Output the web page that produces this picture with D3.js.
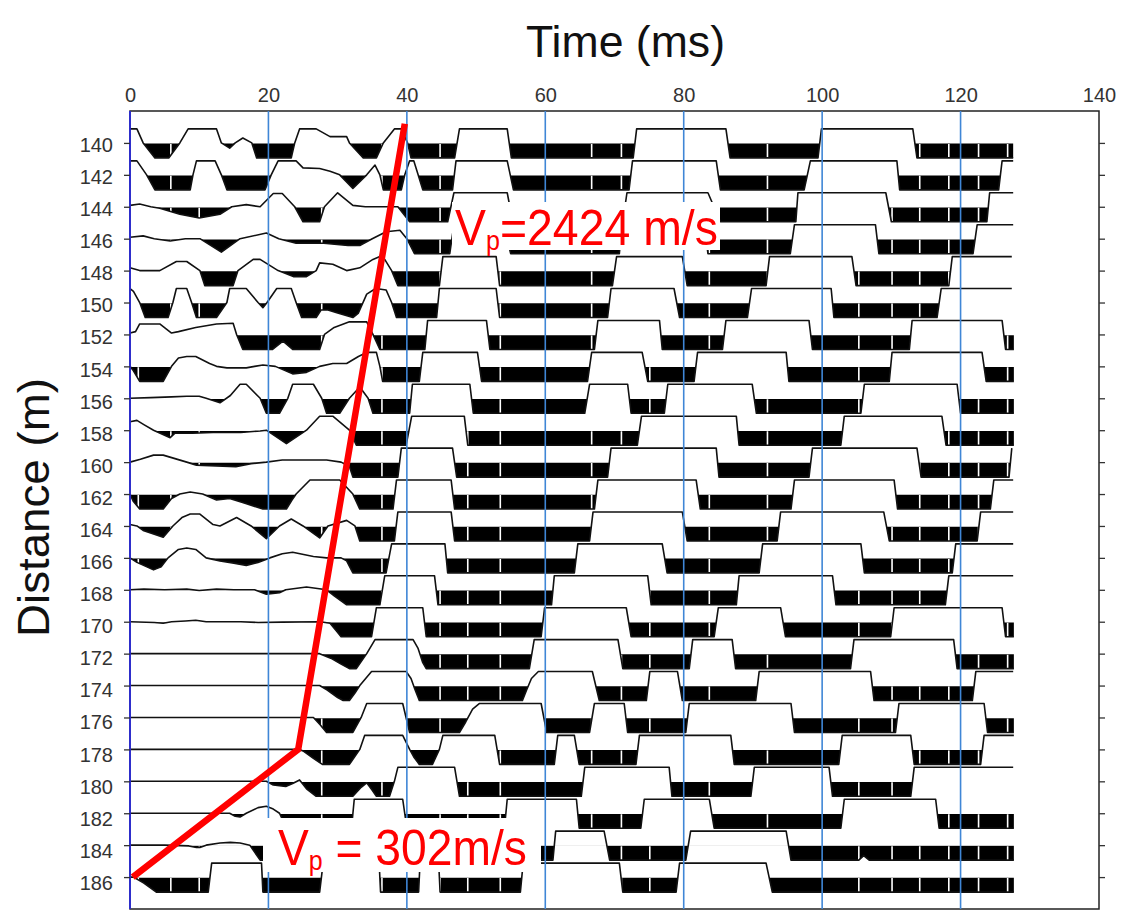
<!DOCTYPE html>
<html><head><meta charset="utf-8">
<script src="https://cdn.jsdelivr.net/npm/d3@7/dist/d3.min.js"></script>
<style>body{margin:0;background:#fff}svg{display:block}text{font-family:"Liberation Sans",Arial,sans-serif}</style>
</head><body><svg id="c" width="1126" height="910"></svg>
<script>
// ---- data ----
const distances = [140,142,144,146,148,150,152,154,156,158,160,162,164,166,168,170,172,174,176,178,180,182,184,186];
const timeTicks = [0,20,40,60,80,100,120,140];
const gridTimes = [20,40,60,80,100,120];
// sample gaps visible as thin white lines inside the black fills (ms)
const gapTimes = [1.2,5.9,10.0,27.7,36.4,44.8,48.8,53.5,66.7,71.0,75.1,83.7,92.1,105.3,110.1,114.1,118.3,122.6,126.8];
// first-break picks (ms, m)
const pickTimes = [0.4,24.3,39.7];
const pickDist = [186,178,138.8];
// traces: flat pairs [time ms, clipped amplitude (+ = filled, down)]
const tr140=[0,-1,1.0,-1,1.9,0,3.6,1,5.6,1,7.2,0,8.4,-1,12.5,-1,13.2,0,14.4,0.35,15.2,0,16.3,-0.35,17.6,0,18.3,1,23.3,1,23.8,0,24.5,-1,26.9,-1,28.9,-0.45,31.3,-0.45,31.7,0,33.7,1,35.6,1,36.6,0,38.2,-1,39.2,-1,40.1,0,40.6,1,46.9,1,47.6,-1,54.5,-1,55.1,1,72.7,1,73.2,-1,86.1,-1,86.7,1,99.4,1,99.9,-1,113.1,-1,113.7,1,127.6,1];
const tr142=[0,-1,1.0,-1,2.4,0,3.6,1,8.7,1,9.1,0,9.6,-1,12.3,-1,13.2,0,14.0,1,19.5,1,20.4,0,21.4,-1,24.0,-1,25.0,-0.5,27.4,-0.45,28.9,-0.25,30.3,0,32.2,0.9,34.2,0,35.4,-0.7,36.1,0,36.6,1,39.2,1,39.7,0,40.4,-1,41.0,-1,42.3,1,46.6,1,47.1,-1,54.5,-1,55.4,1,72.1,1,72.6,-1,84.7,-1,85.3,1,97.4,1,98.3,-1,110.8,-1,111.2,1,125.5,1,126.0,-1,127.6,-1];
const tr144=[0,-0.1,1.4,-0.2,3.0,0,4.3,0.1,7.2,0.5,10.0,0.75,13.0,0.5,14.7,0,16.8,-0.15,18.8,0,20.7,-0.95,22.0,-0.95,23.8,0,25.0,1,27.4,1,28.1,0,30.0,-1,32.2,-0.1,34.0,0,38.7,0,40.4,1,45.9,1,46.8,-1,54.5,-1,55.3,1,71.2,1,71.8,-1,83.5,-1,85.3,1,96.2,1,96.5,-1,109.2,-1,110.0,1,123.8,1,124.2,-1,127.6,-1];
const tr146=[0,-0.1,1.9,-0.2,3.5,0,5.8,0.15,8.0,0,10.1,0,13.2,0.9,15.9,0,19.7,-0.4,21.5,0,24.0,0.3,28.0,0.3,31.5,0.45,33.2,0.45,35.0,0,37.0,-0.5,39.0,-0.6,40.0,0,41.1,1,46.2,1,46.8,-1,54.0,-1,55.0,1,70.7,1,71.1,-1,83.0,-1,83.5,1,95.4,1,96.0,-1,107.7,-1,108.2,1,121.8,1,122.4,-1,127.6,-1];
const tr148=[0,-0.2,1.4,0,4.3,0,6.7,-0.65,8.2,-0.65,10.1,0,10.8,1,14.9,1,15.6,0,17.8,-0.8,18.8,-0.8,21.4,0,23.6,0.4,25.5,0.4,26.9,0,27.4,-0.55,29.3,-0.45,31.3,0,33.2,-0.2,35.1,-0.8,36.1,-1,36.8,-0.8,37.8,0,38.7,1,44.7,1,45.2,-1,52.9,-1,53.4,1,69.7,1,70.3,-1,79.8,-1,80.5,1,91.9,1,92.4,-1,104.3,-1,104.9,1,118.3,1,118.8,-1,127.4,-1];
const tr150=[0,-1,0.5,-0.8,1.4,0,2.2,1,5.5,1,6.2,0,6.7,-1,8.2,-1,8.9,0,9.6,1,12.5,1,14.0,0,14.4,-1,16.8,-1,18.5,0,19.2,0.35,19.8,0,21.2,-1,23.3,-1,24.0,0,24.8,1,26.9,1,27.6,0.5,28.6,0.5,30.0,0.7,32.2,1,33.0,0.7,34.2,-0.6,35.5,-1,37.0,-0.9,37.8,0,38.5,1,44.3,1,44.7,-1,52.9,-1,53.4,1,69.0,1,69.5,-1,78.6,-1,79.4,1,89.2,1,89.8,-1,101.3,-1,101.7,1,116.6,1,117.2,-1,127.4,-1];
const tr152=[0,-0.1,0.8,-0.2,1.4,-0.75,4.3,-0.75,6.0,-0.1,7.0,-0.2,9.5,-0.5,12.5,-0.75,14.9,-0.8,15.4,0,16.3,1,20.6,1,22.1,0.45,23.5,1,27.4,1,28.1,0,29.5,-0.5,31.7,-0.9,34.2,-0.9,35.1,0,36.1,1,42.6,1,43.0,-1,51.5,-1,52.0,1,67.1,1,67.6,-1,76.5,-1,76.9,1,85.6,1,86.1,-1,98.1,-1,98.6,1,112.6,1,113.0,-1,126.0,-1,126.5,1,127.7,1];
const tr154=[0,0,0.5,0.3,1.4,1,4.8,1,6.0,0,7.0,-0.6,8.2,-0.7,9.5,-0.7,11.5,-0.2,12.5,0,14.0,0.1,16.8,0.1,18.0,0,19.2,-0.1,21.0,0,23.5,0.5,25.5,0.4,27.4,0,29.3,-0.2,31.3,-0.2,33.0,-0.7,34.2,-1,35.6,-1,36.1,0,36.5,1,41.8,1,42.3,-1,50.2,-1,50.8,1,66.1,1,66.7,-1,74.0,-1,74.8,1,81.5,1,82.0,-1,94.8,-1,95.2,1,109.7,1,110.1,-1,123.1,-1,123.7,1,127.7,1];
const tr156=[0,0,3.0,-0.05,6.0,-0.1,8.2,-0.15,10.0,-0.15,11.0,0,13.0,0.3,14.5,-0.2,15.9,-1,16.8,-1,18.8,0,19.7,1,21.6,1,22.8,0,23.5,-1,26.5,-1,27.7,0,28.4,1,30.3,1,31.7,0,33.2,-0.8,34.4,0,35.1,1,40.4,1,40.8,-1,49.1,-1,49.6,1,65.7,1,66.4,-1,71.9,-1,72.4,1,77.2,1,77.7,-1,89.9,-1,90.5,1,105.6,1,106.1,-1,119.5,-1,120.0,1,127.7,1];
const tr158=[0,-0.6,1.0,-0.7,2.0,-0.4,3.4,0,5.8,0.5,6.5,0.2,9.0,0.2,12.0,0.15,16.0,0.15,18.8,0.05,19.7,0,22.6,0.9,25.5,0,27.4,-1,29.3,-1,31.7,0,32.7,1,39.9,1,40.7,-1,48.3,-1,48.8,1,73.3,1,73.9,-1,87.6,-1,88.0,1,102.7,1,103.2,-1,117.3,-1,117.9,1,127.7,1];
const tr160=[0,0,1.5,-0.2,3.4,-0.5,4.8,-0.5,6.5,-0.25,8.2,0,9.6,0.2,15.3,0.3,17.5,0.1,19.7,0,22.0,-0.15,28.4,-0.15,30.5,0,31.7,0.3,32.2,1,38.7,1,39.2,-1,46.6,-1,47.2,1,69.0,1,69.5,-1,84.7,-1,85.1,1,98.1,1,98.6,-1,113.7,-1,114.3,1,127.0,1,127.4,-1];
const tr162=[0,0,0.5,0.5,1.4,1,4.8,1,6.0,0.3,7.2,0,8.7,-0.15,10.5,0,12.5,0.4,14.4,0.3,16.5,0.6,19.2,1,22.6,1,23.4,0.4,24.0,0,26.0,-1,30.3,-1,32.2,0,33.2,1,38.0,1,38.5,-1,46.4,-1,46.9,1,67.1,1,67.6,-1,81.8,-1,82.4,1,95.5,1,96.0,-1,110.4,-1,110.9,1,124.3,1,124.8,-1,127.6,-1];
const tr164=[0,-0.1,1.0,0,1.9,0.3,4.8,0.75,6.2,0,7.5,-0.6,8.7,-0.85,10.1,-0.85,12.0,-0.1,13.0,0,15.4,-0.6,17.5,0,19.7,0.85,21.6,0,23.3,-0.5,25.0,0,27.4,0.8,28.6,0,31.3,-0.4,32.5,0,33.2,1,38.2,1,38.7,-1,46.4,-1,46.9,1,66.4,1,66.9,-1,79.8,-1,80.5,1,93.5,1,94.0,-1,108.9,-1,109.7,1,122.4,1,122.9,-1,127.6,-1];
const tr166=[0,0,1.0,0.3,3.4,0.8,4.5,0.6,5.5,0,7.0,-0.6,8.2,-0.7,9.5,-0.6,11.0,0,13.0,0.2,15.0,0.35,16.8,0.5,18.5,0.3,20.2,0,22.0,-0.3,23.5,-0.4,26.5,-0.1,28.4,0,30.5,0,31.3,0.2,32.2,1,37.0,1,37.8,-1,45.5,-1,45.9,1,64.2,1,64.7,-1,76.9,-1,77.6,1,90.9,1,91.4,-1,105.6,-1,106.1,1,118.8,1,119.3,-1,127.6,-1];
const tr168=[0,0,2.0,-0.05,5.0,0,8.2,-0.05,10.0,0.05,12.5,-0.05,15.0,0,18.0,0,19.7,0.3,21.6,0.2,22.5,0,25.5,-0.2,28.4,0,29.5,0.4,31.3,1,36.1,1,36.8,-1,44.0,-1,44.5,1,60.9,1,61.3,-1,74.8,-1,75.3,1,87.6,1,88.0,-1,101.5,-1,102.0,1,117.8,1,118.3,-1,127.6,-1];
const tr170=[0,0,3.5,0.05,4.8,0.1,6.0,0,8.0,-0.05,9.5,-0.1,11.0,0,16.0,0,18.5,0.05,22.0,0.03,27.5,0,28.9,0.1,29.8,0.6,30.5,1,34.9,1,35.6,-1,42.3,-1,42.8,1,59.4,1,59.9,-1,71.7,-1,72.4,1,84.4,1,85.0,-1,94.0,-1,94.7,1,109.9,1,110.4,-1,126.0,-1,126.5,1,127.7,1];
const tr172=[0,0,27.4,0,29.0,0.3,30.5,0.7,31.7,1,32.7,1,34.2,0,35.4,-1,40.9,-1,41.6,-0.4,42.3,0.6,42.8,1,57.7,1,58.4,-1,70.5,-1,71.2,1,80.8,1,81.3,-1,87.0,-1,87.5,1,104.1,1,104.6,-1,119.0,-1,119.5,1,127.7,1];
const tr174=[0,0,27.4,0,28.5,0.3,30.0,0.8,30.8,1,31.7,1,32.5,0.5,33.2,0,34.9,-1,39.9,-1,40.6,-0.5,41.2,0.3,41.8,1,56.7,1,57.3,0.3,58.0,-0.5,59.0,-1,66.8,-1,67.8,1,74.6,1,75.1,-1,79.1,-1,79.8,1,90.4,1,90.9,-1,107.0,-1,107.5,1,121.7,1,122.2,-1,127.6,-1];
const tr176=[0,0,26.5,0,27.5,0.5,28.4,1,32.2,1,33.4,0,34.2,-1,39.4,-1,40.4,1,47.6,1,48.5,0.3,49.5,-0.6,50.5,-1,59.4,-1,60.2,1,66.4,1,67.1,-1,71.4,-1,71.9,1,80.3,1,80.8,-1,95.5,-1,96.0,1,110.6,1,111.1,-1,123.4,-1,123.9,1,127.7,1];
const tr178=[0,0,24.5,0,25.0,0.1,26.5,0.6,27.8,1,31.7,1,33.2,0,33.9,-1,39.4,-1,40.4,0,41.0,0.5,41.8,1,43.7,1,44.7,0,45.2,-1,52.7,-1,53.4,1,61.3,1,61.8,-1,64.2,-1,64.9,1,73.1,1,73.6,-1,86.8,-1,87.3,1,102.4,1,102.9,-1,112.8,-1,113.3,1,122.9,1,123.4,-1,127.7,-1];
const tr180=[0,0,19.7,0,20.7,0.25,22.5,0.35,23.5,0.15,24.5,-0.1,25.5,0.5,26.9,1,32.2,1,33.4,0.4,34.2,0.1,35.0,0.6,35.6,1,37.5,1,38.2,0,38.7,-1,46.9,-1,47.6,1,65.2,1,65.7,-1,77.9,-1,78.3,1,89.7,1,90.2,-1,101.0,-1,101.5,1,112.8,1,113.3,-1,127.6,-1];
const tr182=[0,0,14.4,0,15.2,0.2,15.9,0.25,16.8,0,18.5,-0.4,19.7,-0.5,20.7,-0.3,21.6,0,22.6,1,32.0,1,32.4,-1,39.4,-1,40.0,1,54.1,1,54.5,-1,64.5,-1,64.9,1,73.8,1,74.3,-1,83.7,-1,84.4,1,102.7,1,103.2,-1,116.4,-1,116.9,1,127.7,1];
const tr184=[0,0,5.0,0,8.5,0.05,9.6,0.15,10.1,0.15,11.0,0,13.0,-0.15,14.5,-0.2,15.9,-0.15,17.3,0,18.8,1,25.0,1,25.6,-1,35.0,-1,35.6,1,43.0,1,43.6,-1,50.0,-1,50.6,1,61.1,1,61.5,-1,68.5,-1,69.3,1,80.3,1,81.0,-1,94.8,-1,95.5,1,105.3,1,106.0,0.7,106.8,1,127.7,1];
const tr186=[0,0,0.5,0,2.0,0.4,3.8,1,11.3,1,11.8,-1,19.0,-1,19.2,1,27.4,1,27.9,-1,36.0,-1,36.2,1,41.7,1,41.9,-1,44.6,-1,44.8,1,56.4,1,56.8,-1,70.7,-1,71.2,1,78.9,1,79.4,-1,91.9,-1,92.8,1,127.7,1];
const traceList=[tr140,tr142,tr144,tr146,tr148,tr150,tr152,tr154,tr156,tr158,tr160,tr162,tr164,tr166,tr168,tr170,tr172,tr174,tr176,tr178,tr180,tr182,tr184,tr186];

// ---- drawing ----
const svg=d3.select('#c');
const x=d3.scaleLinear().domain([0,140]).range([130,1099]);
const y=d3.scaleLinear().domain([138,188]).range([111,909]);
const yLab=d3.scaleLinear().domain([140,186]).range([145,883]);
const amp=a=>a>0?a*15:a*14;
const defs=svg.append('defs');

svg.append('rect').attr('x',x(0)).attr('y',y(138)).attr('width',x(140)-x(0)).attr('height',y(188)-y(138))
  .attr('fill','none').attr('stroke','#222').attr('stroke-width',1.5);

traceList.forEach((tr,i)=>{
  const base=y(distances[i]);
  const pts=[];for(let k=0;k<tr.length;k+=2)pts.push([tr[k],tr[k+1]]);
  const area=d3.area().x(p=>x(p[0])).y0(base).y1(p=>base+amp(p[1]));
  const line=d3.line().x(p=>x(p[0])).y(p=>base+amp(p[1]));
  defs.append('clipPath').attr('id','bl'+i).append('rect')
    .attr('x',x(0)).attr('y',base+0.7).attr('width',x(140)-x(0)).attr('height',17);
  defs.append('clipPath').attr('id','ar'+i).append('path').attr('d',area(pts));
  const g=svg.append('g');
  g.append('path').attr('d',area(pts)).attr('fill','#000').attr('clip-path',`url(#bl${i})`);
  g.append('g').attr('clip-path',`url(#ar${i})`).selectAll('line').data(gapTimes).join('line')
    .attr('x1',t=>x(t)).attr('x2',t=>x(t)).attr('y1',base+1).attr('y2',base+16)
    .attr('stroke','#fff').attr('stroke-width',1.6);
  g.append('path').attr('d',line(pts)).attr('fill','none').attr('stroke','#111')
    .attr('stroke-width',1.6).attr('stroke-linejoin','round');
});

// grid
svg.append('g').selectAll('line').data(gridTimes).join('line')
  .attr('x1',t=>x(t)).attr('x2',t=>x(t)).attr('y1',y(138)).attr('y2',y(188))
  .attr('stroke','#3f86d6').attr('stroke-width',1.6);
svg.append('line').attr('x1',x(0)).attr('x2',x(0)).attr('y1',y(138)).attr('y2',y(188))
  .attr('stroke','#2a2ad8').attr('stroke-width',1.8);

// axes
const fontC='#333';
const topAxis=svg.append('g').attr('transform','translate(0,102)')
  .call(d3.axisTop(x).tickValues(timeTicks).tickSize(0).tickPadding(0));
topAxis.select('.domain').remove();
topAxis.selectAll('text').attr('y',0).attr('dy',0).attr('font-size',20).attr('fill',fontC).attr('font-family','Liberation Sans, Arial, sans-serif');

const lt=svg.append('g').attr('transform',`translate(${x(0)},0)`)
  .call(d3.axisLeft(y).tickValues(distances).tickSize(6).tickFormat(''));
lt.select('.domain').remove(); lt.selectAll('line').attr('stroke','#333').attr('stroke-width',1.3);
const rt=svg.append('g').attr('transform',`translate(${x(140)},0)`)
  .call(d3.axisRight(y).tickValues(distances).tickSize(6).tickFormat(''));
rt.select('.domain').remove(); rt.selectAll('line').attr('stroke','#333').attr('stroke-width',1.3);
const ll=svg.append('g').attr('transform','translate(113,0)')
  .call(d3.axisLeft(yLab).tickValues(distances).tickSize(0).tickPadding(0));
ll.select('.domain').remove();
ll.selectAll('text').attr('font-size',20).attr('fill',fontC).attr('font-family','Liberation Sans, Arial, sans-serif');

// helper: fit a text horizontally between left/right
function fit(sel,left,right,baseline){
  const bb=sel.node().getBBox(); const s=(right-left)/bb.width;
  sel.attr('transform',`translate(${left},${baseline}) scale(${s},1) translate(${-bb.x},0)`);
}
// titles
const t1=svg.append('text').attr('font-size',44).attr('fill','#111').text('Time (ms)');
fit(t1,526,725,57);
const t2=svg.append('text').attr('font-size',45).attr('fill','#111').text('Distance (m)');
{const bb=t2.node().getBBox(); const s=259/bb.width;
 t2.attr('transform',`translate(49,637) rotate(-90) scale(${s},1) translate(${-bb.x},0)`);}

// velocity labels with white boxes
svg.append('rect').attr('x',452).attr('y',202).attr('width',268).attr('height',48).attr('fill','#fff');
svg.append('rect').attr('x',263).attr('y',818).attr('width',278).attr('height',54).attr('fill','#fff');
function vlabel(rest,left,right,baseline){
  const t=svg.append('text').attr('font-size',50).attr('fill','#ff0000');
  t.append('tspan').text('V');
  t.append('tspan').attr('font-size',27).attr('dy',5).text('p');
  t.append('tspan').attr('dy',-5).text(rest);
  fit(t,left,right,baseline);
}
vlabel('=2424 m/s',455,718,245);
vlabel(' = 302m/s',278,527,865);

// first-break pick line
const picks=pickTimes.map((t,i)=>[t,pickDist[i]]);
svg.append('path').attr('d',d3.line().x(p=>x(p[0])).y(p=>y(p[1]))(picks))
  .attr('fill','none').attr('stroke','#ff0000').attr('stroke-width',6.5).attr('stroke-linejoin','miter');
</script></body></html>
